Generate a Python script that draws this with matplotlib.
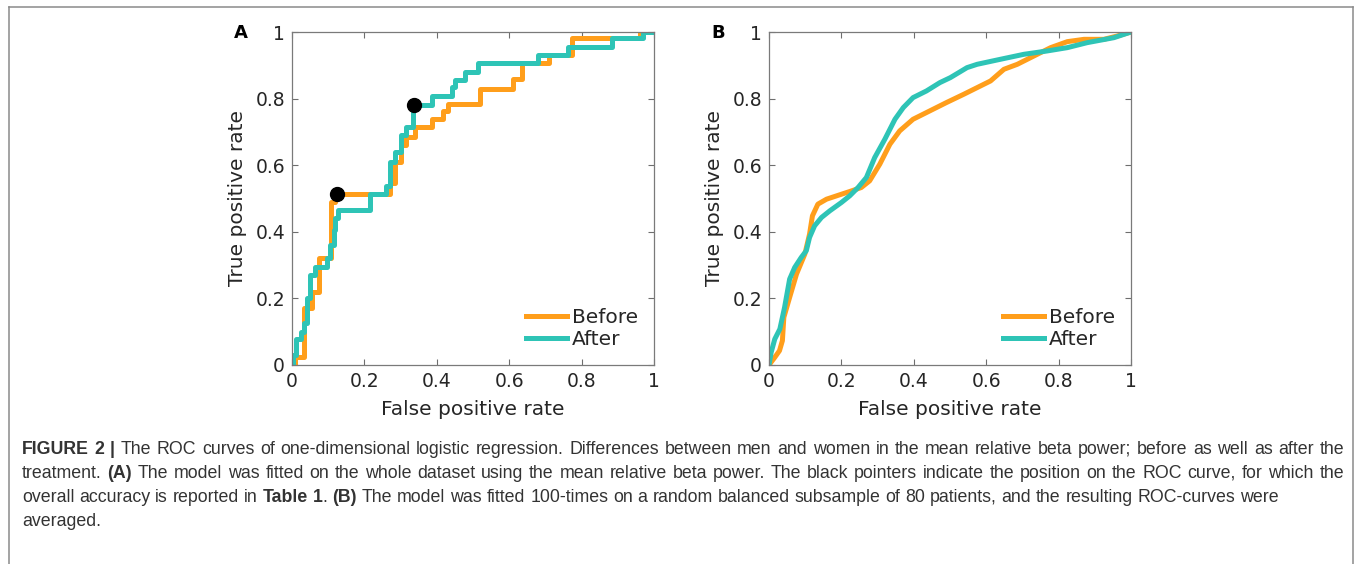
#!/usr/bin/env python3
"""ROC curves of one-dimensional logistic regression, before/after treatment (Figure 2)."""
import matplotlib

matplotlib.use("Agg")
import matplotlib.pyplot as plt  # noqa: E402
from matplotlib import font_manager  # noqa: E402
from matplotlib.lines import Line2D  # noqa: E402

# ---- data ----
# panel A: step ROC, each point = (fpr where the curve jumps, tpr after the jump)
fpr_before_a = [0, 0.008, 0.033, 0.055, 0.075, 0.108, 0.118, 0.271, 0.285, 0.30, 0.314,
                0.34, 0.386, 0.418, 0.43, 0.519, 0.611, 0.634, 0.711, 0.773, 0.96, 1.0]
tpr_before_a = [0, 0.025, 0.17, 0.22, 0.32, 0.49, 0.515, 0.546, 0.61, 0.66, 0.686,
                0.714, 0.738, 0.764, 0.785, 0.83, 0.858, 0.906, 0.93, 0.981, 1.0, 1.0]
fpr_after_a = [0, 0.004, 0.011, 0.024, 0.033, 0.041, 0.05, 0.064, 0.096, 0.105, 0.115,
               0.119, 0.128, 0.215, 0.26, 0.271, 0.285, 0.30, 0.314, 0.333, 0.386, 0.441,
               0.45, 0.478, 0.515, 0.68, 0.763, 0.883, 0.97, 1.0]
tpr_after_a = [0, 0.03, 0.077, 0.10, 0.125, 0.20, 0.27, 0.293, 0.32, 0.36, 0.405,
               0.44, 0.465, 0.513, 0.537, 0.61, 0.64, 0.69, 0.716, 0.78, 0.808, 0.836,
               0.856, 0.88, 0.906, 0.93, 0.956, 0.981, 1.0, 1.0]
# operating points reported in Table 1
point_fpr = [0.125, 0.337]
point_tpr = [0.515, 0.78]

# panel B: averaged ROC curves
fpr_before_b = [0, 0.016, 0.029, 0.037, 0.041, 0.057, 0.076, 0.099, 0.112, 0.12, 0.135,
                0.159, 0.195, 0.223, 0.255, 0.278, 0.306, 0.334, 0.361, 0.398, 0.444,
                0.49, 0.538, 0.575, 0.612, 0.649, 0.686, 0.741, 0.778, 0.824, 0.87,
                0.925, 0.962, 1.0]
tpr_before_b = [0, 0.023, 0.043, 0.073, 0.143, 0.203, 0.273, 0.333, 0.393, 0.448, 0.483,
                0.498, 0.511, 0.521, 0.533, 0.553, 0.603, 0.663, 0.703, 0.738, 0.763,
                0.788, 0.813, 0.833, 0.853, 0.888, 0.903, 0.933, 0.953, 0.971, 0.978,
                0.978, 0.988, 1.0]
fpr_after_b = [0, 0.006, 0.016, 0.03, 0.043, 0.057, 0.071, 0.089, 0.103, 0.112, 0.126,
               0.145, 0.168, 0.2, 0.223, 0.246, 0.269, 0.292, 0.32, 0.348, 0.371, 0.398,
               0.435, 0.472, 0.501, 0.547, 0.575, 0.639, 0.704, 0.768, 0.824, 0.879,
               0.953, 1.0]
tpr_after_b = [0, 0.038, 0.078, 0.108, 0.173, 0.258, 0.293, 0.323, 0.343, 0.383, 0.418,
               0.443, 0.463, 0.488, 0.508, 0.533, 0.563, 0.623, 0.678, 0.738, 0.773,
               0.803, 0.823, 0.848, 0.863, 0.893, 0.903, 0.918, 0.933, 0.943, 0.953,
               0.968, 0.983, 1.0]

ticks = [0, 0.2, 0.4, 0.6, 0.8, 1]
tick_labels = ["0", "0.2", "0.4", "0.6", "0.8", "1"]
series_labels = ["Before", "After"]

caption = [
    [("FIGURE 2 |", True, False), ("The ROC curves of one-dimensional logistic regression. "
      "Differences between men and women in the mean relative beta power; before as well "
      "as after the", False, True)],
    [("treatment.", False, False), ("(A)", True, True), ("The model was fitted on the whole "
      "dataset using the mean relative beta power. The black pointers indicate the position "
      "on the ROC curve, for which the", False, True)],
    [("overall accuracy is reported in", False, False), ("Table 1", True, True),
     (".", False, False), ("(B)", True, True), ("The model was fitted 100-times on a random "
      "balanced subsample of 80 patients, and the resulting ROC-curves were", False, True)],
    [("averaged.", False, False)],
]
justified = [True, True, False, False]

ORANGE = "#FF9E1B"
TEAL = "#2EC4B6"
W, H = 1357, 564

fig = plt.figure(figsize=(W / 100, H / 100), dpi=100)
ax_a = fig.add_axes([292 / W, 1 - 365 / H, 362 / W, 333 / H])
ax_b = fig.add_axes([769 / W, 1 - 365 / H, 362 / W, 333 / H])

ax_a.step(fpr_before_a, tpr_before_a, where="post", color=ORANGE, lw=3.6, label=series_labels[0])
ax_a.step(fpr_after_a, tpr_after_a, where="post", color=TEAL, lw=3.6, label=series_labels[1])
ax_a.plot(point_fpr, point_tpr, "o", color="black", ms=10, zorder=5)

ax_b.plot(fpr_before_b, tpr_before_b, color=ORANGE, lw=3.6, label=series_labels[0])
ax_b.plot(fpr_after_b, tpr_after_b, color=TEAL, lw=3.6, label=series_labels[1])

for ax, letter in [(ax_a, "A"), (ax_b, "B")]:
    ax.set_xlim(0, 1)
    ax.set_ylim(0, 1)
    ax.set_xticks(ticks, tick_labels)
    ax.set_yticks(ticks, tick_labels)
    ax.tick_params(direction="in", top=True, right=True, length=4, width=0.8,
                   color="#6e6e6e", labelsize=13.5, labelcolor="#262626", pad=5)
    for sp in ax.spines.values():
        sp.set_color("#7a7a7a")
        sp.set_linewidth(0.9)
    ax.set_xlabel("False positive rate", fontsize=14.5, color="#262626")
    ax.set_ylabel("True positive rate", fontsize=14.5, color="#262626")
    ax.xaxis.set_label_coords(0.5, -0.105)
    ax.yaxis.set_label_coords(-0.125, 0.5)
    ax.legend(loc="lower right", frameon=False, fontsize=14.5, handlelength=2.0,
              handletextpad=0.25, labelspacing=0.15, borderaxespad=0.4,
              labelcolor="#262626")
    x0 = ax.get_position().x0 - 51 / W
    fig.text(x0, 1 - 33 / H, letter, fontsize=13, fontweight="bold", ha="center", va="center")

# frame round the whole figure (bottom edge lies below the crop)
for xs, ys in [([9 / W, 9 / W], [0, 1 - 7 / H]), ([9 / W, 1353 / W], [1 - 7 / H, 1 - 7 / H]),
               ([1353 / W, 1353 / W], [1 - 7 / H, 0])]:
    fig.add_artist(Line2D(xs, ys, color="#8a8a8a", lw=1.1, transform=fig.transFigure))

# ---- caption with mixed bold / regular words ----
names = {f.name for f in font_manager.fontManager.ttflist}
cap_font = "Liberation Sans Narrow" if "Liberation Sans Narrow" in names else "Liberation Sans"
renderer = fig.canvas.get_renderer()


def text_width(s, size, bold):
    t = fig.text(0, 0, s, fontsize=size, family=cap_font, fontweight="bold" if bold else "normal")
    w = t.get_window_extent(renderer).width
    t.remove()
    return w


def words_of(line):
    out = []
    for txt, bold, space in line:
        for i, wd in enumerate(txt.split(" ")):
            out.append((wd, bold, space or i > 0))
    return out


left, right = 22, 1344
size = 12.0
first = words_of(caption[0])
natural = sum(text_width(w, size, b) for w, b, _ in first) + \
    (len(first) - 1) * (text_width("x x", size, False) - text_width("xx", size, False))
size *= (right - left) / natural * 0.985
space_w = text_width("x x", size, False) - text_width("xx", size, False)

for k, line in enumerate(caption):
    words = words_of(line)
    widths = [text_width(w, size, b) for w, b, _ in words]
    n_gaps = sum(1 for _, _, s in words[1:] if s)
    gap = space_w
    if justified[k] and n_gaps:
        gap = (right - left - sum(widths)) / n_gaps
    x = left
    y = 454 + 24 * k  # baseline
    for (wd, bold, sp), wdt in zip(words, widths):
        if sp and x > left:
            x += gap
        fig.text(x / W, 1 - y / H, wd, fontsize=size, family=cap_font, color="#333333",
                 fontweight="bold" if bold else "normal", va="baseline", ha="left")
        x += wdt

fig.savefig("out.png", dpi=100)
